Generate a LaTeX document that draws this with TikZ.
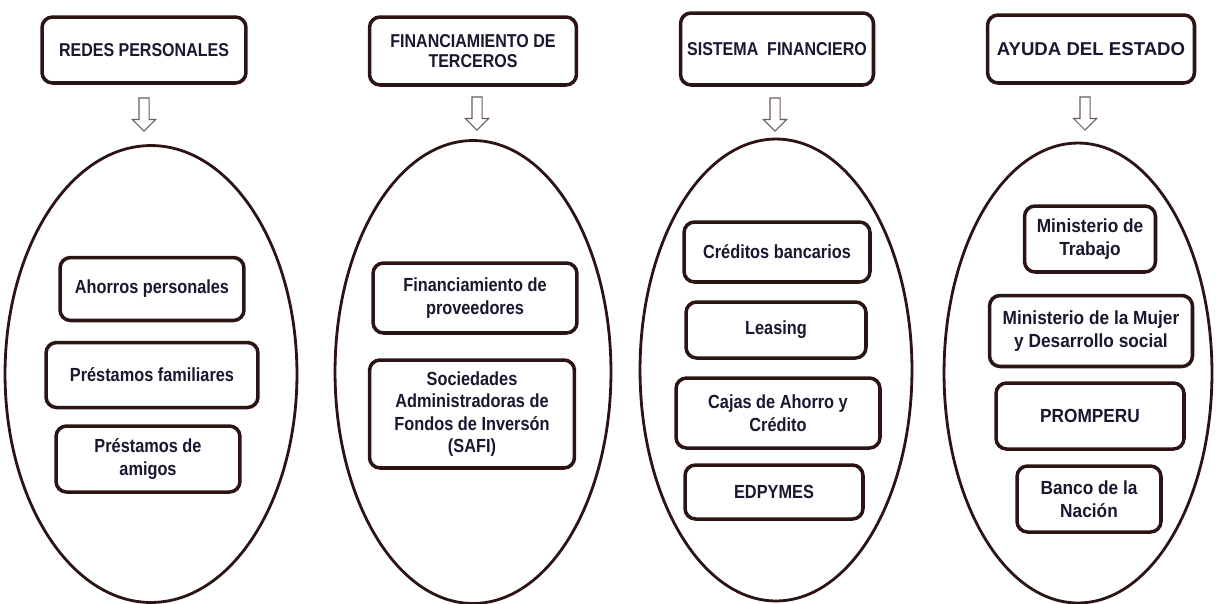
\documentclass[tikz,border=0pt]{standalone}
\usepackage{fontspec}
\setmainfont{Liberation Sans}[FakeStretch=0.86]
\newfontfamily\estadofont{Liberation Sans}[FakeStretch=0.91]
\newfontfamily\anchafont{Liberation Sans}
\definecolor{fuentes}{RGB}{24,24,48}
\definecolor{borde}{RGB}{45,20,20}
\usetikzlibrary{arrows.meta,positioning,shapes.geometric,shapes.arrows}

\begin{document}
\begin{tikzpicture}[x=0.02cm, y=-0.02cm,
  titulo/.style={draw=borde, line width=2pt, rounded corners=6pt, fill=white, font=\fontsize{10.6}{11}\selectfont\bfseries, text=fuentes, align=center},
  fuente/.style={draw=borde, line width=2pt, rounded corners=6pt, fill=white, font=\fontsize{10.8}{12.8}\selectfont\bfseries, text=fuentes, align=center},
  estado/.style={fuente, font=\estadofont\fontsize{10.8}{12.8}\selectfont\bfseries},
  grupo/.style={draw=borde, line width=1.6pt, ellipse, inner sep=0pt},
  bajada/.style={draw=borde!70, line width=0.6pt, shape=single arrow, shape border rotate=270, inner sep=0.09cm, minimum height=0.66cm, single arrow head extend=0.13cm}]
  \useasboundingbox (0,0) rectangle (1216,603);
  \clip (0,0) rectangle (1216,603);

  % Encabezados
  \node[titulo, minimum width=4.08cm, minimum height=1.32cm] (redes) at (144,50) {REDES PERSONALES};
  \node[titulo, minimum width=4.14cm, minimum height=1.36cm] (terceros) at (473,51) {FINANCIAMIENTO DE\\TERCEROS};
  \node[titulo, minimum width=3.86cm, minimum height=1.44cm] (sistema) at (777,49) {SISTEMA\ \ FINANCIERO};
  \node[titulo, font=\anchafont\fontsize{10.6}{11}\selectfont\bfseries, minimum width=4.14cm, minimum height=1.36cm] (ayuda) at (1091,49) {AYUDA DEL ESTADO};

  % Flechas
  \node[bajada] (b1) at (144,112) {};
  \node[bajada] (b2) at (477,111) {};
  \node[bajada] (b3) at (775,112) {};
  \node[bajada] (b4) at (1085,111) {};

  % Elipses
  \node[grupo, minimum width=5.84cm, minimum height=9.14cm] (e1) at (151,374) {};
  \node[grupo, minimum width=5.52cm, minimum height=9.26cm] (e2) at (473,372) {};
  \node[grupo, minimum width=5.44cm, minimum height=9.24cm] (e3) at (776,370) {};
  \node[grupo, minimum width=5.36cm, minimum height=9.20cm] (e4) at (1078,373) {};

  %--- Redes personales ---
  \node[fuente, minimum width=3.68cm, minimum height=1.26cm] (ahorros) at (152,289) {Ahorros personales};
  \node[fuente, minimum width=4.24cm, minimum height=1.30cm] (familiares) at (152,375) {Préstamos familiares};
  \node[fuente, minimum width=3.68cm, minimum height=1.32cm] (amigos) at (148,459) {Préstamos de\\amigos};

  %--- Financiamiento de terceros ---
  \node[fuente, minimum width=4.08cm, minimum height=1.40cm] (proveedores) at (475,298) {Financiamiento de\\proveedores};
  \node[fuente, minimum width=4.10cm, minimum height=2.16cm] (safi) at (472,414) {Sociedades\\Administradoras de\\Fondos de Inversón\\(SAFI)};

  %--- Sistema financiero ---
  \node[fuente, minimum width=3.72cm, minimum height=1.20cm] (creditos) at (777,252) {Créditos bancarios};
  \node[fuente, minimum width=3.60cm, minimum height=1.12cm] (leasing) at (776,330) {Leasing};
  \node[fuente, minimum width=4.08cm, minimum height=1.40cm] (cajas) at (778,413) {Cajas de Ahorro y\\Crédito};
  \node[fuente, minimum width=3.56cm, minimum height=1.08cm] (edpymes) at (774,492) {EDPYMES};

  %--- Ayuda del estado ---
  \node[estado, minimum width=2.62cm, minimum height=1.32cm] (trabajo) at (1090,239) {Ministerio de\\Trabajo};
  \node[estado, minimum width=4.06cm, minimum height=1.42cm] (mujer) at (1091,331) {Ministerio de la Mujer\\y Desarrollo social};
  \node[estado, minimum width=3.76cm, minimum height=1.32cm] (promperu) at (1090,416) {PROMPERU};
  \node[estado, minimum width=2.88cm, minimum height=1.32cm] (nacion) at (1089,499) {Banco de la\\Nación};
\end{tikzpicture}
\end{document}
